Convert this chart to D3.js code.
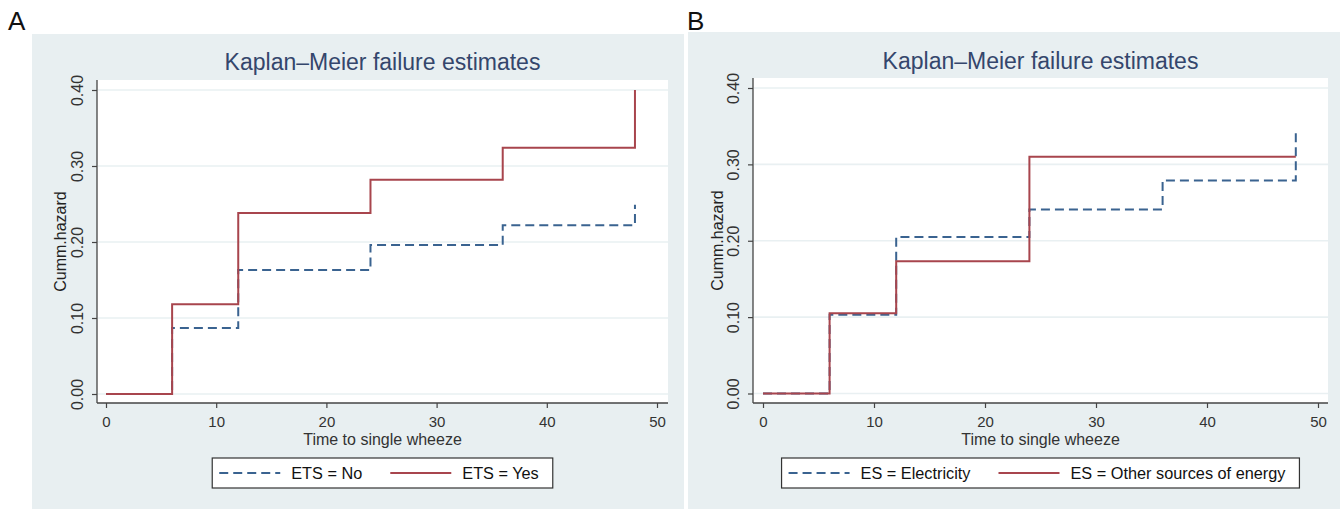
<!DOCTYPE html>
<html>
<head>
<meta charset="utf-8">
<script src="https://cdn.jsdelivr.net/npm/d3@7"></script>
<style>
  body { margin: 0; background: #ffffff; }
  text { font-family: "Liberation Sans", Arial, sans-serif; }
</style>
</head>
<body>
<script>
// values
const xTicks = [0, 10, 20, 30, 40, 50];
const yTicks = [0, 0.1, 0.2, 0.3, 0.4];

const timesA = [0, 6, 12, 24, 36, 48];
const etsNo = [0, 0.087, 0.163, 0.196, 0.222, 0.249];
const etsYes = [0, 0.118, 0.238, 0.282, 0.324, 0.40];
const legendA = ["ETS = No", "ETS = Yes"];

const timesElectricity = [0, 6, 12, 24, 36, 48];
const esElectricity = [0, 0.103, 0.205, 0.241, 0.279, 0.343];
const timesOther = [0, 6, 12, 24, 48];
const esOther = [0, 0.105, 0.173, 0.310, 0.310];
const legendB = ["ES = Electricity", "ES = Other sources of energy"];

const titleText = "Kaplan\u2013Meier failure estimates";
const xTitle = "Time to single wheeze";
const yTitle = "Cumm.hazard";

const navy = "#3a6390";
const maroon = "#a8454d";

const svg = d3.select("body").append("svg")
  .attr("width", 1340)
  .attr("height", 509);

function drawPanel(p) {
  const g = svg.append("g");

  g.append("rect")
    .attr("x", p.bg[0]).attr("y", p.bg[1])
    .attr("width", p.bg[2]).attr("height", p.bg[3])
    .attr("fill", "#e8eff1");

  g.append("text")
    .attr("x", p.label[1]).attr("y", 30)
    .attr("font-size", 26)
    .attr("fill", "#111")
    .text(p.label[0]);

  // white plot region
  g.append("rect")
    .attr("x", p.plot.left).attr("y", p.plot.top)
    .attr("width", p.plot.right - p.plot.left)
    .attr("height", p.plot.bottom - p.plot.top)
    .attr("fill", "#ffffff");

  const x = d3.scaleLinear().domain([0, 50]).range(p.xRange);
  const y = d3.scaleLinear().domain([0, 0.4]).range(p.yRange);
  const cx = (p.plot.left + p.plot.right) / 2;
  const cy = (p.plot.top + p.plot.bottom) / 2;

  g.append("text")
    .attr("x", cx).attr("y", p.titleY)
    .attr("text-anchor", "middle")
    .attr("font-size", 23)
    .attr("fill", "#34466c")
    .text(titleText);

  // grid
  g.selectAll(".grid").data(yTicks).join("line")
    .attr("x1", p.plot.left + 1).attr("x2", p.plot.right)
    .attr("y1", d => y(d)).attr("y2", d => y(d))
    .attr("stroke", "#e9f0f2").attr("stroke-width", 1.6);

  // axes
  const yAxis = g.append("g")
    .attr("transform", `translate(${p.plot.left},0)`)
    .call(d3.axisLeft(y).tickValues(yTicks).tickFormat(d3.format(".2f")).tickSize(5).tickPadding(0));
  yAxis.select(".domain").attr("d", `M0,${p.plot.top}V${p.plot.bottom}`).attr("stroke", "#444").attr("stroke-width", 1.3);
  yAxis.selectAll(".tick line").attr("stroke", "#444").attr("stroke-width", 1.2);
  yAxis.selectAll(".tick text")
    .attr("x", null).attr("dy", null)
    .attr("transform", "translate(-14,0) rotate(-90)")
    .attr("text-anchor", "middle")
    .attr("font-size", 16)
    .attr("font-family", "Liberation Sans, Arial, sans-serif")
    .attr("fill", "#333");

  const xAxis = g.append("g")
    .attr("transform", `translate(0,${p.plot.bottom})`)
    .call(d3.axisBottom(x).tickValues(xTicks).tickSize(5).tickPadding(0));
  xAxis.select(".domain").attr("d", `M${p.plot.left},0H${p.plot.right}`).attr("stroke", "#444").attr("stroke-width", 1.3);
  xAxis.selectAll(".tick line").attr("stroke", "#444").attr("stroke-width", 1.2);
  xAxis.selectAll(".tick text")
    .attr("y", 24).attr("dy", null)
    .attr("font-size", 15)
    .attr("font-family", "Liberation Sans, Arial, sans-serif")
    .attr("fill", "#333");

  g.append("text")
    .attr("x", cx).attr("y", p.plot.bottom + 42)
    .attr("text-anchor", "middle")
    .attr("font-size", 16)
    .attr("fill", "#333")
    .text(xTitle);

  g.append("text")
    .attr("transform", `translate(${p.yTitleX},${cy}) rotate(-90)`)
    .attr("text-anchor", "middle")
    .attr("font-size", 16)
    .attr("fill", "#222")
    .text(yTitle);

  // step curves
  const line = d3.line()
    .x(d => x(d[0])).y(d => y(d[1]))
    .curve(d3.curveStepAfter);

  p.series.forEach(s => {
    g.append("path")
      .datum(d3.zip(s.times, s.values))
      .attr("fill", "none")
      .attr("stroke", s.color)
      .attr("stroke-width", 2)
      .attr("stroke-dasharray", s.dash || null)
      .attr("d", line);
  });

  // legend
  const leg = g.append("g");
  const texts = p.legend.map(t => leg.append("text")
    .attr("font-size", 16.3).attr("fill", "#111").text(t));
  const w = texts.map(t => t.node().getComputedTextLength());
  const total = 7 + 61 + 11 + w[0] + 28 + 61 + 11 + w[1] + 14;
  const lx = cx - total / 2;
  const ly = 458, lh = 30;
  leg.insert("rect", "text")
    .attr("x", lx).attr("y", ly).attr("width", total).attr("height", lh)
    .attr("fill", "#ffffff").attr("stroke", "#333").attr("stroke-width", 1.2);
  let cur = lx + 7;
  p.series.forEach((s, i) => {
    leg.append("line")
      .attr("x1", cur).attr("x2", cur + 61)
      .attr("y1", ly + lh / 2).attr("y2", ly + lh / 2)
      .attr("stroke", s.color).attr("stroke-width", 2)
      .attr("stroke-dasharray", s.dash || null);
    cur += 61 + 11;
    texts[i].attr("x", cur).attr("y", ly + 21);
    cur += w[i] + 28;
  });
}

drawPanel({
  label: ["A", 8],
  bg: [32, 34, 652, 475],
  plot: { left: 97, right: 668, top: 80, bottom: 403 },
  xRange: [106, 657],
  yRange: [394, 90],
  titleY: 70,
  yTitleX: 66,
  legend: legendA,
  series: [
    { times: timesA, values: etsNo, color: navy, dash: "9,5" },
    { times: timesA, values: etsYes, color: maroon }
  ]
});

drawPanel({
  label: ["B", 687],
  bg: [688, 32, 652, 477],
  plot: { left: 753, right: 1328, top: 78, bottom: 403 },
  xRange: [763, 1318],
  yRange: [393.5, 88],
  titleY: 69,
  yTitleX: 723,
  legend: legendB,
  series: [
    { times: timesElectricity, values: esElectricity, color: navy, dash: "9,5" },
    { times: timesOther, values: esOther, color: maroon }
  ]
});
</script>
</body>
</html>
